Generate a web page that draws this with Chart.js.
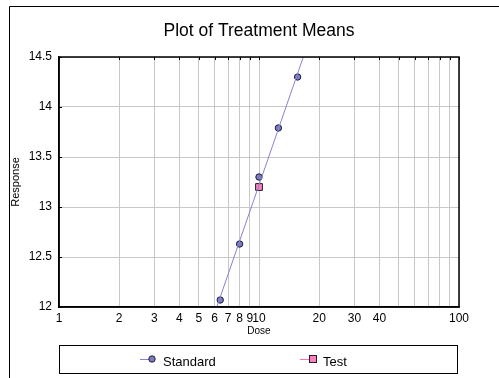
<!DOCTYPE html>
<html>
<head>
<meta charset="utf-8">
<title>Plot of Treatment Means</title>
<script src="https://cdn.jsdelivr.net/npm/chart.js@4.4.1/dist/chart.umd.min.js"></script>
<style>
  html, body { margin: 0; padding: 0; background: #fff; }
  #wrap { width: 499px; height: 378px; }
</style>
</head>
<body>
<div id="wrap"><canvas id="myCanvas" width="499" height="378"></canvas></div>
<script>
var stdDose = [6.4, 8, 10, 12.5, 15.6];
var stdResp = [12.07, 12.63, 13.3, 13.79, 14.3];
var testDose = [10];
var testResp = [13.2];
// ends of the fitted Standard line
var fitDose = [6.15, 16.65];
var fitResp = [12, 14.5];
var doseTicks = [1, 2, 3, 4, 5, 6, 7, 8, 9, 10, 20, 30, 40, 50, 60, 70, 80, 90, 100];
var doseLabels = [1, 2, 3, 4, 5, 6, 7, 8, 9, 10, 20, 30, 40, 100];
var respTicks = [12, 12.5, 13, 13.5, 14, 14.5];
var titulo = 'Plot of Treatment Means';

var fontFam = "'Liberation Sans', Arial, sans-serif";

function pts(xs, ys) {
    var out = [];
    for (var i = 0; i < xs.length; i++) {
        out.push({ x: xs[i], y: ys[i] });
    }
    return out;
}

// white background, title, outer frame, plot box and the boxed legend
var framePlugin = {
    id: 'frame',
    beforeDraw: function (chart) {
        var c = chart.ctx;
        c.save();
        c.fillStyle = '#fff';
        c.fillRect(0, 0, chart.width, chart.height);
        c.restore();
    },
    afterDraw: function (chart) {
        var c = chart.ctx;
        var a = chart.chartArea;
        var ds = chart.data.datasets;
        var sx = chart.scales.x;
        var sy = chart.scales.y;
        c.save();

        // title centred over the plot
        c.fillStyle = '#000';
        c.font = '17.5px ' + fontFam;
        c.textAlign = 'center';
        c.textBaseline = 'middle';
        c.fillText(titulo, (a.left + a.right) / 2, 31);
        c.textAlign = 'left';

        c.strokeStyle = '#000';
        c.lineWidth = 1;
        c.beginPath();
        c.moveTo(9.5, chart.height);
        c.lineTo(9.5, 6.5);
        c.lineTo(chart.width, 6.5);
        c.stroke();

        // inner tick marks on top and left edges
        c.beginPath();
        doseTicks.forEach(function (v) {
            var px = Math.round(sx.getPixelForValue(v)) + 0.5;
            c.moveTo(px, a.top);
            c.lineTo(px, a.top + 3);
        });
        respTicks.forEach(function (v) {
            var py = Math.round(sy.getPixelForValue(v)) + 0.5;
            c.moveTo(a.left, py);
            c.lineTo(a.left + 3, py);
        });
        c.stroke();

        c.lineWidth = 1.5;
        c.strokeRect(a.left, a.top, a.right - a.left, a.bottom - a.top);

        // legend
        c.lineWidth = 1;
        c.strokeRect(59.5, 345.5, 398, 28);
        c.font = '13px ' + fontFam;
        c.textBaseline = 'middle';

        c.strokeStyle = ds[0].borderColor;
        c.beginPath(); c.moveTo(140, 359.5); c.lineTo(152, 359.5); c.stroke();
        c.fillStyle = ds[1].backgroundColor;
        c.strokeStyle = ds[1].borderColor;
        c.beginPath(); c.arc(152, 359, 3.2, 0, Math.PI * 2); c.fill(); c.stroke();
        c.fillStyle = '#000';
        c.fillText(ds[1].label, 163, 362);

        c.strokeStyle = ds[2].borderColor;
        c.beginPath(); c.moveTo(300, 359.5); c.lineTo(313, 359.5); c.stroke();
        c.fillStyle = ds[2].backgroundColor;
        c.strokeStyle = '#202020';
        c.fillRect(309.5, 355.5, 7, 7);
        c.strokeRect(309.5, 355.5, 7, 7);
        c.fillStyle = '#000';
        c.fillText(ds[2].label, 323, 362);
        c.restore();
    }
};

var ctx = document.getElementById('myCanvas');
var grafica = new Chart(ctx, {
    type: 'scatter',
    data: {
        datasets: [{
            type: 'line',
            label: 'Standard fit',
            data: pts(fitDose, fitResp),
            borderColor: '#8484d4',
            borderWidth: 1,
            pointRadius: 0,
            fill: false
        }, {
            label: 'Standard',
            data: pts(stdDose, stdResp),
            pointStyle: 'circle',
            pointRadius: 3.2,
            backgroundColor: '#7b7bbd',
            borderColor: '#1e1e3c',
            borderWidth: 1
        }, {
            label: 'Test',
            data: pts(testDose, testResp),
            pointStyle: 'rect',
            pointRadius: 4.8,
            backgroundColor: '#ff80c0',
            borderColor: '#ff70b8',
            pointBorderColor: '#202020',
            borderWidth: 1
        }]
    },
    options: {
        responsive: false,
        animation: false,
        layout: { padding: { left: 9, right: 40, top: 57, bottom: 41 } },
        plugins: {
            legend: { display: false },
            tooltip: { enabled: false },
            title: { display: false }
        },
        scales: {
            x: {
                type: 'logarithmic',
                position: 'bottom',
                min: 1,
                max: 100,
                afterBuildTicks: function (s) {
                    s.ticks = doseTicks.map(function (v) { return { value: v }; });
                },
                afterFit: function (s) { s.height = 30; },
                grid: { color: '#c8c8c8', lineWidth: 1, drawTicks: false },
                border: { color: '#000', width: 1.5 },
                ticks: {
                    autoSkip: false,
                    maxRotation: 0,
                    padding: 4,
                    color: '#000',
                    font: { family: fontFam, size: 12 },
                    callback: function (v) {
                        return doseLabels.indexOf(v) >= 0 ? String(v) : '';
                    }
                },
                title: {
                    display: true,
                    text: 'Dose',
                    color: '#000',
                    padding: 0,
                    font: { family: fontFam, size: 10 }
                }
            },
            y: {
                min: 12,
                max: 14.5,
                afterBuildTicks: function (s) {
                    s.ticks = respTicks.map(function (v) { return { value: v }; });
                },
                afterFit: function (s) { s.width = 50; },
                grid: { color: '#c8c8c8', lineWidth: 1, drawTicks: false },
                border: { color: '#000', width: 1.5 },
                ticks: {
                    padding: 7,
                    color: '#000',
                    font: { family: fontFam, size: 12 },
                    callback: function (v) { return String(v); }
                },
                title: {
                    display: true,
                    text: 'Response',
                    color: '#000',
                    padding: 0,
                    font: { family: fontFam, size: 11 }
                }
            }
        }
    },
    plugins: [framePlugin]
});
</script>
</body>
</html>
